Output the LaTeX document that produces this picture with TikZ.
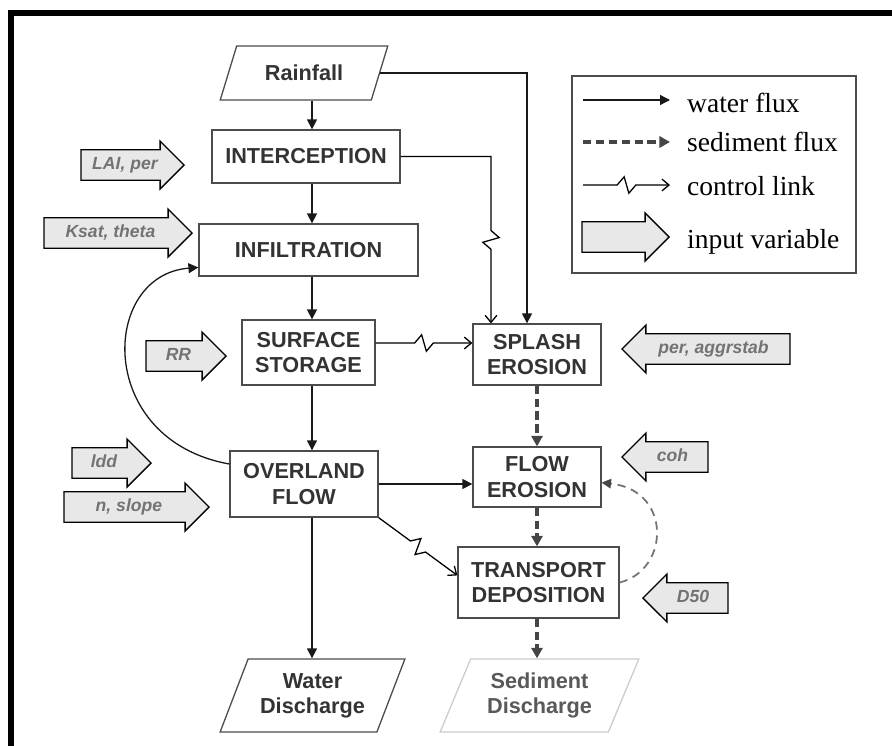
\documentclass[tikz,border=0pt]{standalone}
\usepackage{fontspec}
\setmainfont{Liberation Serif}
\setsansfont{Liberation Sans}
\usetikzlibrary{calc, arrows.meta, shapes.geometric, shapes.arrows}

\definecolor{boxline}{gray}{0.3}
\definecolor{boxtext}{gray}{0.2}
\definecolor{infill}{gray}{0.91}
\definecolor{intext}{gray}{0.45}
\definecolor{sedline}{gray}{0.27}
\definecolor{sedout}{gray}{0.8}

\tikzset{
  proc/.style={draw=boxline, line width=1.1pt, fill=white, text=boxtext, align=center,
    font=\sffamily\bfseries\fontsize{18.5}{21.5}\selectfont, inner sep=0pt},
  datio/.style={proc, trapezium, trapezium stretches=true},
  inarrow/.style={single arrow, draw=black, line width=1.1pt, fill=infill, text=intext,
    font=\sffamily\bfseries\itshape\fontsize{15}{18}\selectfont, text height=11pt, text depth=3pt,
    inner ysep=5.5pt, inner xsep=3pt, single arrow head extend=2.6mm, minimum height=#1, anchor=tip},
  inleft/.style={inarrow=#1, shape border rotate=180},
  legtext/.style={anchor=base west, font=\rmfamily\fontsize{23.5}{26}\selectfont, inner sep=0pt},
  wflux/.style={draw=black!90, line width=1.1pt, -{Triangle[length=8.5pt,width=8.5pt]}},
  sflux/.style={draw=sedline, line width=2.8pt, dash pattern=on 7pt off 4pt, -{Triangle[length=9pt,width=9.5pt]}},
  fback/.style={draw=black!55, line width=1.5pt, dash pattern=on 7pt off 5pt, -{Triangle[length=8pt,width=8pt,color=sedline]}},
  zig/.style={to path={let \p1=(\tikztostart), \p2=(\tikztotarget), \n1={atan2(\y2-\y1,\x2-\x1)} in
    -- ($(\tikztostart)!0.5!(\tikztotarget)+(\n1:-8pt)$)
    -- ($(\tikztostart)!0.5!(\tikztotarget)+(\n1:-2pt)+(\n1+90:7pt)$)
    -- ($(\tikztostart)!0.5!(\tikztotarget)+(\n1:2pt)+(\n1-90:7pt)$)
    -- ($(\tikztostart)!0.5!(\tikztotarget)+(\n1:8pt)$)
    -- (\tikztotarget) \tikztonodes}},
  ctrl/.style={draw=black, line width=1.1pt, -{Straight Barb[length=6pt,width=10pt]}, zig}
}

\begin{document}
\begin{tikzpicture}[x=0.3mm, y=-0.3mm]
  \useasboundingbox[fill=white] (0,0) rectangle (892,746);
  \draw[line width=4.3pt] (892,13) -- (11,13) -- (11,746);

  % water side
  \node[datio, trapezium left angle=59, trapezium right angle=121, minimum width=50.4mm, minimum height=16.2mm] (rain) at (304,73) {Rainfall};
  \node[proc, minimum width=56.4mm, minimum height=15.9mm] (icpt) at (306,156.5) {INTERCEPTION};
  \node[proc, minimum width=65.7mm, minimum height=15.6mm] (infil) at (308.5,250) {INFILTRATION};
  \node[proc, minimum width=39.9mm, minimum height=19.5mm] (surf) at (308.5,352.5) {SURFACE\\STORAGE};
  \node[proc, minimum width=44.4mm, minimum height=19.8mm] (over) at (304,484) {OVERLAND\\FLOW};
  \node[datio, trapezium left angle=63, trapezium right angle=117, minimum width=55.5mm, minimum height=21.9mm] (wdis) at (312.5,695.5) {Water\\Discharge};

  % sediment side
  \node[proc, minimum width=38.4mm, minimum height=18.3mm] (splash) at (537,354.5) {SPLASH\\EROSION};
  \node[proc, minimum width=38.4mm, minimum height=18mm] (flowe) at (537,477) {FLOW\\EROSION};
  \node[proc, minimum width=48.3mm, minimum height=21.3mm] (trans) at (538.5,582.5) {TRANSPORT\\DEPOSITION};
  \node[datio, draw=sedout, text=black!65, trapezium left angle=63, trapezium right angle=117, minimum width=59.7mm, minimum height=21.9mm] (sdis) at (539.5,695.5) {Sediment\\Discharge};

  % input variables
  \node[inarrow=30.9mm] (lai) at (185,165) {LAI, per};
  \node[inarrow=44.4mm] (ksat) at (193,233) {Ksat, theta};
  \node[inarrow=24mm] (rr) at (227,356) {RR};
  \node[inarrow=23.7mm] (ldd) at (152,463) {ldd};
  \node[inarrow=43.5mm] (nslope) at (210,507) {n, slope};
  \node[inleft=50.4mm] (aggr) at (621,349) {per, aggrstab};
  \node[inleft=25.8mm] (coh) at (621,457) {coh};
  \node[inleft=25.5mm] (dfifty) at (642,598) {D50};

  \coordinate (sp) at (312,0);
  \coordinate (sq) at (537,0);
  \coordinate (rx) at (527,0);
  \coordinate (kx) at (491,0);
  \coordinate (sy) at (0,343);

  \draw[wflux] (rain.south -| sp) -- (icpt.north -| sp);
  \draw[wflux] (icpt.south -| sp) -- (infil.north -| sp);
  \draw[wflux] (infil.south -| sp) -- (surf.north -| sp);
  \draw[wflux] (surf.south -| sp) -- (over.north -| sp);
  \draw[wflux] (over.south -| sp) -- (wdis.north -| sp);
  \draw[wflux] (rain.east) -| (splash.north -| rx);
  \draw[wflux] (over.east) -- (over.east -| flowe.west);
  \draw[wflux] (over.165) .. controls (95,440) and (100,275) .. (infil.189);

  \draw[ctrl] (icpt.east) -- (icpt.east -| kx) to (splash.north -| kx);
  \draw[ctrl] (surf.east |- sy) to (splash.west |- sy);
  \draw[ctrl] (over.south east) to (trans.175);

  \draw[sflux] (splash.south -| sq) -- (flowe.north -| sq);
  \draw[sflux] (flowe.south -| sq) -- (trans.north -| sq);
  \draw[sflux] (trans.south -| sq) -- (sdis.north -| sq);
  \draw[fback] (trans.east) .. controls (670,570) and (672,490) .. (flowe.-5);

  % legend
  \node[draw=boxline, line width=1.1pt, minimum width=85.2mm, minimum height=59.1mm] (legend) at (714,174.5) {};
  \coordinate (lwa) at (583,100);  \coordinate (lwb) at (670,100);
  \coordinate (lsa) at (583,142);  \coordinate (lsb) at (670,142);
  \coordinate (lca) at (583,185);  \coordinate (lcb) at (670,185);
  \draw[wflux] (lwa) -- (lwb);
  \draw[sflux] (lsa) -- (lsb);
  \draw[ctrl] (lca) to (lcb);
  \node[inarrow=26.1mm] (lia) at (670,237) {};
  \node[legtext] (lw) at (687,112) {water flux};
  \node[legtext] (ls) at (687,151) {sediment flux};
  \node[legtext] (lc) at (687,195) {control link};
  \node[legtext] (li) at (687,248) {input variable};
\end{tikzpicture}
\end{document}
